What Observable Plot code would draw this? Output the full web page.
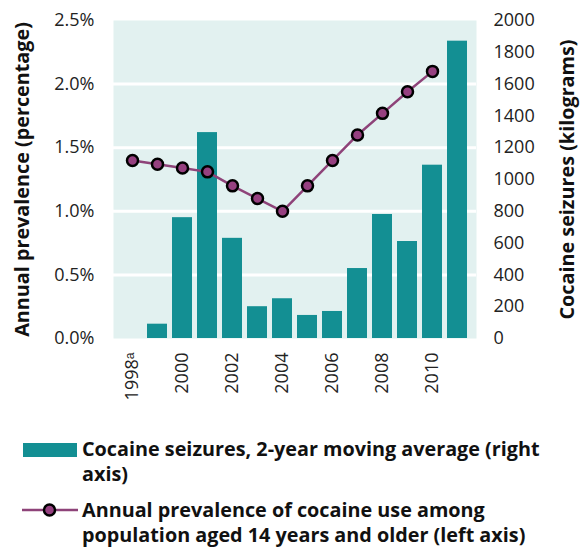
<!DOCTYPE html>
<html>
<head>
<meta charset="utf-8">
<script src="https://cdn.jsdelivr.net/npm/d3@7"></script>
<script src="https://cdn.jsdelivr.net/npm/@observablehq/plot@0.6"></script>
<style>
  body { margin: 0; background: #fff; font-family: "Open Sans", sans-serif; }
  #wrap { position: relative; width: 580px; height: 550px; }
  #legend { position: relative; width: 580px; height: 135px; }
  .lg-text { position: absolute; left: 82px; font-weight: 700; font-size: 19.8px; line-height: 25px; color: #111; white-space: nowrap; }
</style>
</head>
<body>
<div id="wrap">
  <div id="chart"></div>
  <div id="legend"></div>
</div>
<script>
// ---- data ----
const years = [1998, 1999, 2000, 2001, 2002, 2003, 2004, 2005, 2006, 2007, 2008, 2009, 2010, 2011];
const seizuresKg = [0, 90, 760, 1295, 630, 200, 250, 145, 170, 440, 780, 610, 1090, 1870];
const prevYears = [1998, 1999, 2000, 2001, 2002, 2003, 2004, 2005, 2006, 2007, 2008, 2009, 2010];
const prevalencePct = [1.40, 1.37, 1.34, 1.31, 1.20, 1.10, 1.00, 1.20, 1.40, 1.60, 1.77, 1.94, 2.10];
const xTickYears = [1998, 2000, 2002, 2004, 2006, 2008, 2010];
const leftTicks = [0, 0.5, 1.0, 1.5, 2.0, 2.5];
const rightTicks = [0, 200, 400, 600, 800, 1000, 1200, 1400, 1600, 1800, 2000];
const gridValues = [0.5, 1.0, 1.5, 2.0];
const leftTitle = "Annual prevalence (percentage)";
const rightTitle = "Cocaine seizures (kilograms)";
const legendSeizures = ["Cocaine seizures, 2-year moving average (right", "axis)"];
const legendPrevalence = ["Annual prevalence of cocaine use among", "population aged 14 years and older (left axis)"];

// ---- styles ----
const bg = "#e2f1f0";
const teal = "#138f93";
const purple = "#8e4379";
const dotFill = "#964080";
const leftMax = 2.5, rightMax = 2000;
const toLeft = v => v * leftMax / rightMax;

const seizureRows = years.map((y, i) => ({year: y, kg: seizuresKg[i]}));
const prevRows = prevYears.map((y, i) => ({year: y, pct: prevalencePct[i]}));

const chart = Plot.plot({
  width: 580,
  height: 415,
  marginLeft: 113,
  marginRight: 104,
  marginTop: 20,
  marginBottom: 77,
  style: {fontFamily: "'Open Sans', sans-serif", fontSize: "18px", color: "#222", background: "white", overflow: "visible"},
  x: {type: "band", domain: years, paddingInner: 0.2, paddingOuter: 0.1},
  y: {domain: [0, leftMax]},
  marks: [
    Plot.frame({fill: bg, stroke: "none"}),
    Plot.ruleY(gridValues, {stroke: "white", strokeWidth: 3}),
    Plot.barY(seizureRows, {x: "year", y: d => toLeft(d.kg), fill: teal}),
    Plot.lineY(prevRows, {x: "year", y: "pct", stroke: purple, strokeWidth: 2.5}),
    Plot.dot(prevRows, {x: "year", y: "pct", r: 5.5, fill: dotFill, stroke: "black", strokeWidth: 2.5}),
    Plot.axisX(xTickYears, {tickRotate: -90, tickSize: 0, tickPadding: 14, label: null,
      tickFormat: d => d === 1998 ? "1998ᵃ" : String(d), fontSize: 18, fill: "#222"}),
    Plot.axisY(leftTicks, {anchor: "left", tickSize: 0, tickPadding: 19, label: null,
      tickFormat: d => d.toFixed(1) + "%", fontSize: 18, fill: "#222"}),
    Plot.axisY(rightTicks.map(toLeft), {anchor: "right", tickSize: 0, tickPadding: 17, label: null,
      tickFormat: d => String(Math.round(d * rightMax / leftMax)), fontSize: 18, fill: "#222"}),
    Plot.text([leftTitle], {text: d => d, frameAnchor: "left", textAnchor: "middle", rotate: -90, dx: -91,
      fontWeight: "bold", fontSize: 19.8, fill: "#111"}),
    Plot.text([rightTitle], {text: d => d, frameAnchor: "right", textAnchor: "middle", rotate: -90, dx: 91,
      fontWeight: "bold", fontSize: 19.8, fill: "#111"})
  ]
});
document.getElementById("chart").appendChild(chart);

// ---- legend ----
const legend = document.getElementById("legend");
const sw = document.createElement("div");
sw.style.cssText = `position:absolute;left:23px;top:28px;width:54px;height:14px;background:${teal}`;
legend.appendChild(sw);
const t1 = document.createElement("div");
t1.className = "lg-text";
t1.style.top = "21px";
t1.innerHTML = legendSeizures.join("<br>");
legend.appendChild(t1);

const ns = "http://www.w3.org/2000/svg";
const ls = document.createElementNS(ns, "svg");
ls.setAttribute("width", 60); ls.setAttribute("height", 20);
ls.style.cssText = "position:absolute;left:20px;top:85px";
const ln = document.createElementNS(ns, "line");
ln.setAttribute("x1", 2); ln.setAttribute("x2", 58); ln.setAttribute("y1", 10); ln.setAttribute("y2", 10);
ln.setAttribute("stroke", purple); ln.setAttribute("stroke-width", 2.5);
ls.appendChild(ln);
const c = document.createElementNS(ns, "circle");
c.setAttribute("cx", 29.5); c.setAttribute("cy", 10); c.setAttribute("r", 5.5);
c.setAttribute("fill", dotFill); c.setAttribute("stroke", "black"); c.setAttribute("stroke-width", 2.5);
ls.appendChild(c);
legend.appendChild(ls);
const t2 = document.createElement("div");
t2.className = "lg-text";
t2.style.top = "82px";
t2.innerHTML = legendPrevalence.join("<br>");
legend.appendChild(t2);
</script>
</body>
</html>
